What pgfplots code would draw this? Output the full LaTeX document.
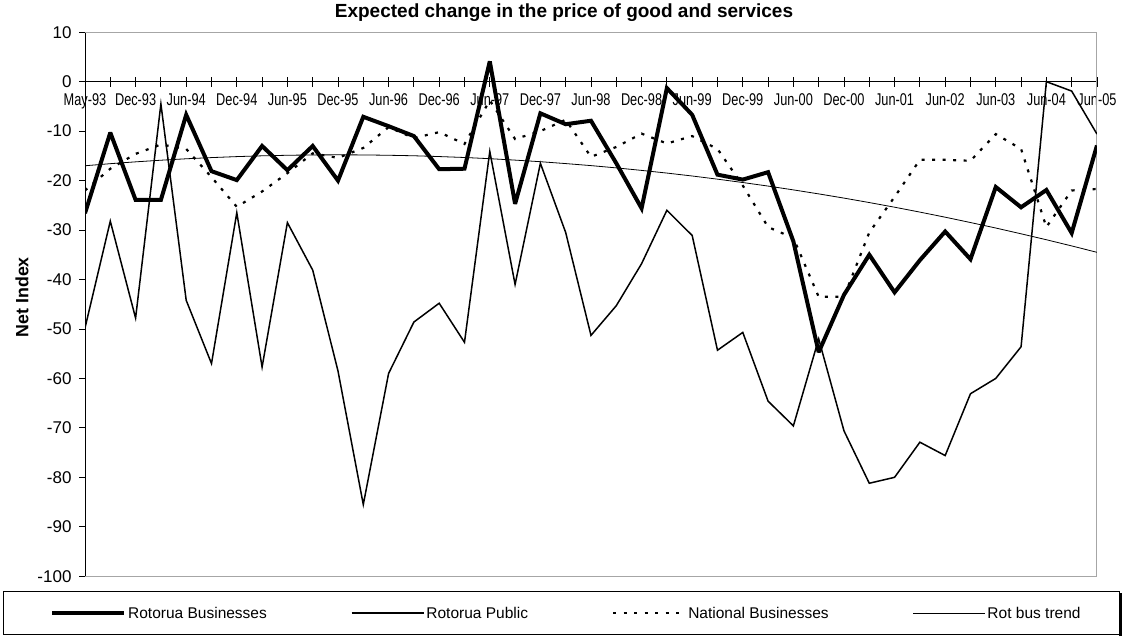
\documentclass[border=0pt]{standalone}
\usepackage{fontspec}
\setmainfont{Liberation Sans}
\newfontfamily\narrowfont{Liberation Sans}[FakeStretch=0.75]
\usepackage{pgfplots}
\usepackage{pgfplotstable}
\pgfplotsset{compat=1.18}

\pgfplotstableread{
k rb rp nb tr
0 -26.6 -49.8 -22.0 -17.00
1 -10.3 -28.2 -17.6 -16.58
2 -23.9 -47.8 -14.6 -16.21
3 -23.9 -4.5 -12.7 -15.88
4 -6.7 -44.2 -13.6 -15.59
5 -18.1 -57.0 -19.3 -15.35
6 -19.9 -26.5 -25.3 -15.15
7 -13.0 -57.7 -22.2 -14.99
8 -17.9 -28.5 -18.5 -14.88
9 -13.0 -38.1 -14.5 -14.81
10 -20.0 -58.5 -15.4 -14.79
11 -7.1 -85.5 -13.4 -14.81
12 -9.0 -59.0 -9.2 -14.88
13 -11.0 -48.6 -11.4 -14.98
14 -17.7 -44.8 -10.2 -15.14
15 -17.6 -52.7 -12.6 -15.33
16 4.1 -14.1 -3.8 -15.57
17 -24.7 -41.0 -11.6 -15.86
18 -6.4 -16.5 -10.0 -16.18
19 -8.6 -30.5 -7.7 -16.56
20 -7.9 -51.3 -15.2 -16.97
21 -16.5 -45.3 -13.2 -17.43
22 -25.6 -36.8 -10.5 -17.94
23 -1.3 -26.0 -12.5 -18.48
24 -6.7 -31.1 -11.0 -19.07
25 -18.8 -54.3 -13.6 -19.71
26 -19.8 -50.7 -21.0 -20.39
27 -18.3 -64.6 -29.4 -21.11
28 -32.3 -69.6 -31.6 -21.88
29 -54.7 -52.0 -43.5 -22.69
30 -43.1 -70.6 -43.5 -23.54
31 -35.0 -81.2 -30.5 -24.44
32 -42.6 -80.0 -23.3 -25.38
33 -36.1 -72.9 -15.8 -26.37
34 -30.3 -75.6 -15.8 -27.40
35 -35.9 -63.1 -16.0 -28.48
36 -21.3 -60.0 -10.6 -29.59
37 -25.4 -53.6 -13.6 -30.76
38 -21.9 0.0 -29.4 -31.96
39 -30.6 -1.9 -22.0 -33.21
40 -12.9 -10.6 -21.7 -34.50
}\datatable

\begin{document}
\begin{tikzpicture}[x=1pt,y=1pt]
\path (0pt,0pt) rectangle (1124pt,636pt);
% x axis at zero
\begin{axis}[
  at={(85pt,60pt)}, anchor=south west,
  scale only axis, width=1012pt, height=544pt,
  xmin=0, xmax=40, ymin=-100, ymax=10,
  axis y line=none, axis x line*=middle,
  axis line style={-, black, line width=0.8pt},
  hide obscured x ticks=false,
  xtick={0,2,...,40}, minor xtick={1,3,...,39},
  xticklabels={May-93,Dec-93,Jun-94,Dec-94,Jun-95,Dec-95,Jun-96,Dec-96,Jun-97,Dec-97,Jun-98,Dec-98,Jun-99,Dec-99,Jun-00,Dec-00,Jun-01,Jun-02,Jun-03,Jun-04,Jun-05},
  tick align=center, major tick length=10pt, minor tick length=10pt,
  tick style={black, line width=0.8pt},
  x tick label style={font=\narrowfont\fontsize{17}{17}\selectfont, anchor=north, yshift=-6pt, inner sep=1pt},
]
\end{axis}
% data and y axis
\begin{axis}[
  at={(85pt,60pt)}, anchor=south west,
  scale only axis, width=1012pt, height=544pt,
  xmin=0, xmax=40, ymin=-100, ymax=10,
  axis x line=none, axis y line*=left,
  axis line style={-, black, line width=0.8pt},
  ytick={-100,-90,...,10}, xtick=\empty,
  tick align=outside, major tick length=6pt,
  tick style={black, line width=0.8pt},
  y tick label style={font=\fontsize{17}{17}\selectfont, xshift=-4pt},
  /pgf/number format/assume math mode=true,
  legend columns=4,
  legend cell align=left,
  legend style={draw=none, fill=none, inner sep=0pt,
    at={(axis description cs:-0.0346,-0.068)}, anchor=west,
    font=\fontsize{15.5}{15.5}\selectfont,
    /tikz/every even column/.append style={column sep=82pt}},
  legend image code/.code={\draw[#1] (0pt,0pt) -- (72pt,0pt);},
]
\draw[gray!70, line width=1.2pt] (rel axis cs:0,1) -- (rel axis cs:1,1) -- (rel axis cs:1,0) -- (rel axis cs:0,0);
\addplot[black, line width=4pt, miter limit=3] table[x=k,y=rb]{\datatable};
\addlegendentry{Rotorua Businesses}
\addplot[black, line width=1.5pt] table[x=k,y=rp]{\datatable};
\addlegendentry{Rotorua Public}
\addplot[black, line width=2.2pt, dash pattern=on 3pt off 7.5pt] table[x=k,y=nb]{\datatable};
\addlegendentry{National Businesses}
\addplot[black, line width=0.8pt] table[x=k,y=tr]{\datatable};
\addlegendentry{Rot bus trend}
\end{axis}
\node[font=\bfseries\fontsize{19}{19}\selectfont] at (564pt,624pt) {Expected change in the price of good and services};
\node[font=\bfseries\fontsize{17.8}{17.8}\selectfont, rotate=90] at (22pt,339pt) {Net Index};
\draw[black, line width=1pt] (3pt,1.5pt) rectangle (1119pt,45pt);
\draw[black, line width=3pt] (1120.5pt,0pt) -- (1120.5pt,43pt);
\end{tikzpicture}
\end{document}
